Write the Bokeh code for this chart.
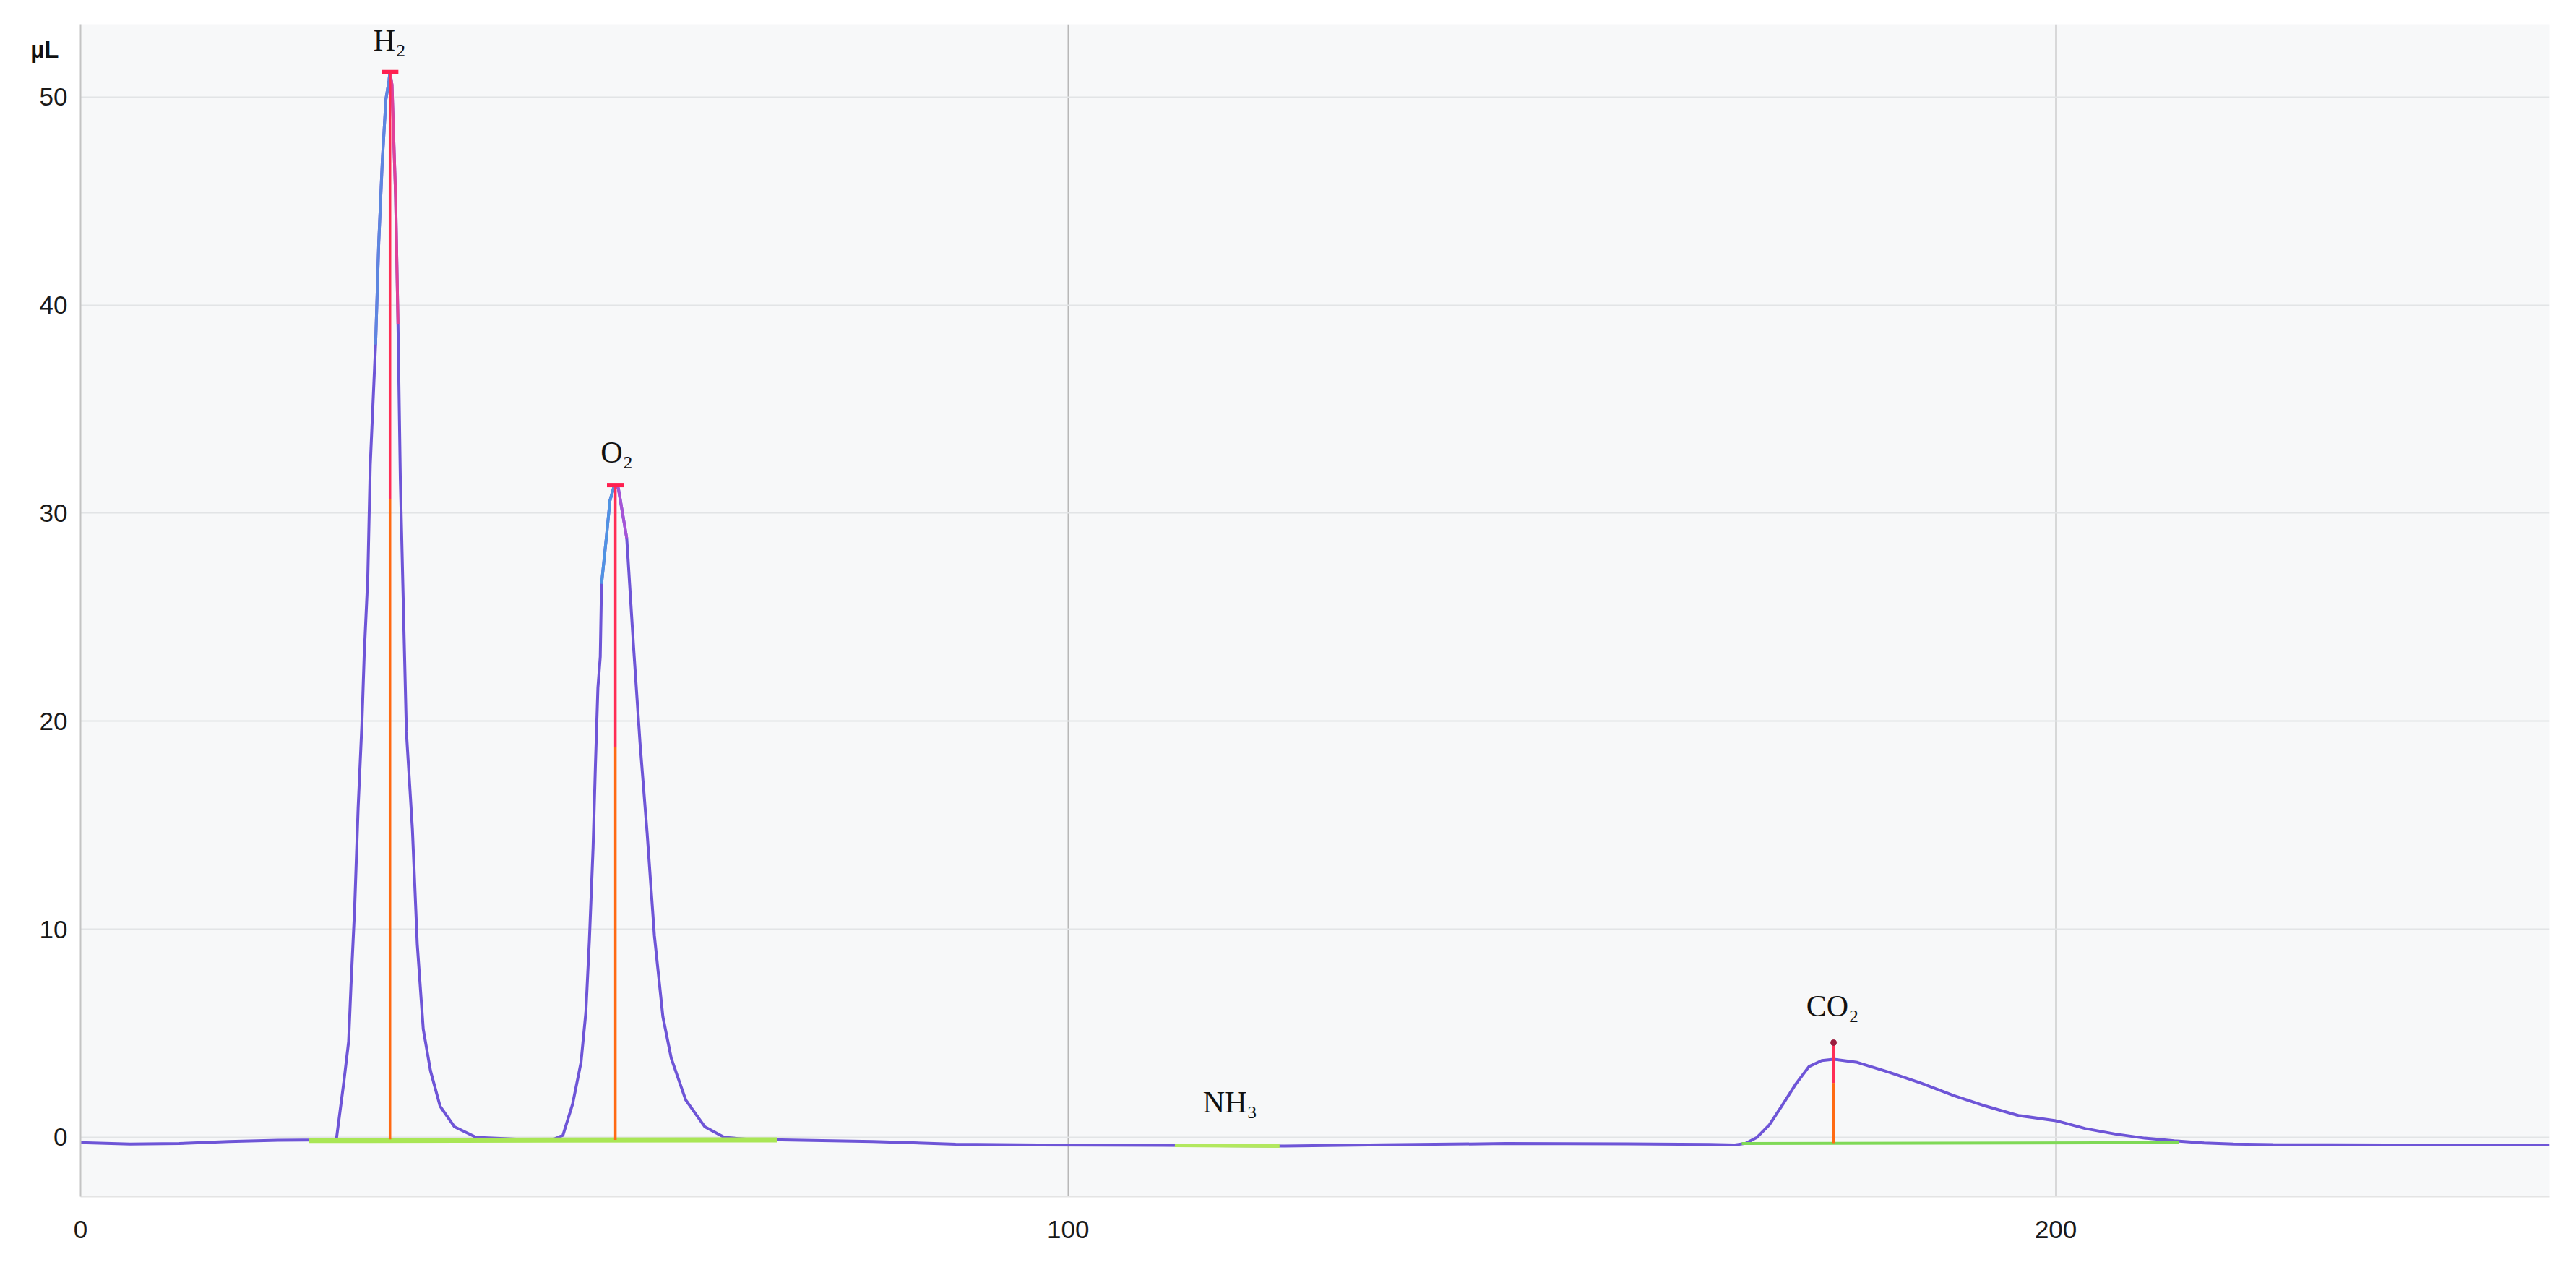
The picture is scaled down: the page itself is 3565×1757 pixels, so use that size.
import numpy as np
from bokeh.plotting import figure
from bokeh.models import ColumnDataSource, Range1d, FixedTicker, LinearAxis
from bokeh.core.properties import value
from bokeh.embed import file_html
from bokeh.resources import INLINE

# ---------------- data ----------------
time_min = [0, 5, 10, 15, 20, 25, 25.9, 26.64, 27.14, 27.38, 27.75, 28.1, 28.48,
            28.72, 29.08, 29.33, 29.87, 30.19, 30.55, 30.92, 31.23, 31.32, 31.53,
            31.9, 32.14, 32.38, 32.63, 32.99, 33.6, 34.09, 34.7, 35.43, 36.4,
            37.87, 40.06, 42.5, 44.5, 46.5, 47.86, 48.84, 49.82, 50.67, 51.16,
            51.52, 51.89, 52.13, 52.38, 52.62, 52.75, 53.23, 53.6, 53.96, 54.15,
            54.45, 55.3, 56.03, 56.64, 57.37, 58.1, 58.96, 59.81, 61.27, 63.22,
            65.18, 67.6, 71, 80.2, 88.6, 97, 109.6, 115, 121.8, 131.9, 144.3,
            156.6, 164.9, 167.4, 168.6, 169.75, 171.0, 172.3, 173.7, 175.0,
            176.3, 177.5, 179.9, 183, 186.4, 189.7, 192.9, 196.2, 200, 203, 206,
            209, 212, 215, 218, 222, 235, 250]
signal_ul = [-0.25, -0.32, -0.3, -0.2, -0.14, -0.12, -0.1, 2.6, 4.6, 7.3, 11.0,
             15.8, 19.8, 23.2, 26.9, 32.3, 38.1, 43.0, 46.9, 49.9, 50.8, 51.2,
             50.6, 45.2, 39.1, 31.6, 26.6, 19.5, 14.8, 9.3, 5.2, 3.2, 1.5, 0.5,
             0.0, -0.05, -0.1, -0.1, -0.1, 0.1, 1.6, 3.6, 6.0, 9.5, 13.9, 17.9,
             21.6, 23.1, 26.6, 28.8, 30.6, 31.2, 31.35, 31.2, 28.8, 23.3, 19.0,
             14.6, 9.7, 5.8, 3.8, 1.8, 0.5, 0.0, -0.1, -0.12, -0.2, -0.33, -0.37,
             -0.38, -0.4, -0.42, -0.36, -0.3, -0.31, -0.34, -0.37, -0.29, 0.0,
             0.6, 1.54, 2.58, 3.4, 3.69, 3.75, 3.6, 3.15, 2.6, 2.0, 1.5, 1.05,
             0.8, 0.42, 0.16, -0.04, -0.17, -0.27, -0.32, -0.35, -0.37, -0.37]

label_names = ["H\u2082", "O\u2082", "NH\u2083", "CO\u2082"]
label_time = [31.3, 54.3, 116.4, 177.4]
label_level = [51.2, 31.35, -0.4, 4.55]

marker_time = [31.33, 54.15, 177.5]
marker_top = [51.2, 31.35, 4.55]
marker_base = [-0.1, -0.12, -0.28]

baseline_t0 = [23.1, 110.8, 168.2]
baseline_t1 = [70.5, 121.4, 212.5]
baseline_y0 = [-0.15, -0.38, -0.3]
baseline_y1 = [-0.12, -0.42, -0.25]

x_ticks = [0, 100, 200]
y_ticks = [0, 10, 20, 30, 40, 50]
y_unit = "\u00b5L"
y_unit_level = 52.3

# ---------------- figure ----------------
W, H = 3557, 1749
p = figure(width=W, height=H, output_backend="svg", toolbar_location=None,
           x_range=Range1d(0, 250), y_range=Range1d(-2.85, 53.5),
           min_border_left=111, min_border_right=29, min_border_top=33,
           min_border_bottom=94)
p.background_fill_color = "#f7f8f9"
p.border_fill_color = "white"
p.outline_line_color = None

p.xaxis.ticker = FixedTicker(ticks=x_ticks)
p.yaxis.ticker = FixedTicker(ticks=y_ticks)
for ax in (p.xaxis[0], p.yaxis[0]):
    ax.major_tick_line_color = None
    ax.minor_tick_line_color = None
    ax.major_label_text_font = "Liberation Sans"
    ax.major_label_text_font_size = "35px"
    ax.major_label_text_color = "#1a1a1a"
p.yaxis.axis_line_color = "#c4c4c4"
p.yaxis.axis_line_width = 2
p.yaxis.major_label_standoff = 12
p.xaxis.axis_line_color = "#e4e4e4"
p.xaxis.axis_line_width = 2
p.xaxis.major_label_standoff = 27

p.xgrid.grid_line_color = "#b8b8b8"
p.xgrid.grid_line_width = 2
p.ygrid.grid_line_color = "#e2e4e6"
p.ygrid.grid_line_width = 2

# unit label above the y axis: an extra, line-less axis with one tick
unit_axis = LinearAxis(ticker=FixedTicker(ticks=[y_unit_level]),
                       major_label_overrides={y_unit_level: y_unit},
                       axis_line_color=None, major_tick_line_color=None,
                       minor_tick_line_color=None,
                       major_label_text_font="Liberation Sans",
                       major_label_text_font_style="bold",
                       major_label_text_font_size="33px",
                       major_label_text_color="#111111",
                       major_label_standoff=-36)
p.add_layout(unit_axis, "left")

t = np.array(time_min, dtype=float)
s = np.array(signal_ul, dtype=float)

# main trace
p.line(t, s, line_color="#6e55d7", line_width=4)


def flank(apex_t, thr, side):
    i = int(np.argmin(np.abs(t - apex_t)))
    j = i
    if side == "left":
        while j > 0 and s[j - 1] >= thr:
            j -= 1
        return t[j:i + 1], s[j:i + 1]
    while j < len(s) - 1 and s[j + 1] >= thr:
        j += 1
    return t[i:j + 1], s[i:j + 1]


# colour shading near the apexes of the two big peaks
for apex, thr, lc, rc in [(marker_time[0], 37, "#5d86e0", "#e0409a"),
                          (marker_time[1], 25, "#4f93e3", "#a654d6")]:
    lx, ly = flank(apex, thr, "left")
    rx, ry = flank(apex, thr, "right")
    p.line(lx, ly, line_color=lc, line_width=4)
    p.line(rx, ry, line_color=rc, line_width=4)

# integration baselines
p.segment(x0=baseline_t0[:1], y0=baseline_y0[:1], x1=baseline_t1[:1],
          y1=baseline_y1[:1], line_color="#a9e655", line_width=7)
p.segment(x0=baseline_t0[1:2], y0=baseline_y0[1:2], x1=baseline_t1[1:2],
          y1=baseline_y1[1:2], line_color="#b2e85e", line_width=5)
p.segment(x0=baseline_t0[2:], y0=baseline_y0[2:], x1=baseline_t1[2:],
          y1=baseline_y1[2:], line_color="#7fd957", line_width=4)

# peak markers
mt = np.array(marker_time)
mtop = np.array(marker_top)
mb = np.array(marker_base)
mid = mb + 0.6 * (mtop - mb)
p.segment(x0=mt, y0=mb, x1=mt, y1=mid, line_color="#ff6a13", line_width=3.5)
p.segment(x0=mt, y0=mid, x1=mt, y1=mtop, line_color="#ff2d55", line_width=3.5)
p.segment(x0=mt[:2] - 0.85, y0=mtop[:2], x1=mt[:2] + 0.85, y1=mtop[:2],
          line_color="#ff2050", line_width=6)
p.scatter(x=mt[2:], y=mtop[2:], size=8, fill_color="#9b1d3e",
          line_color="#9b1d3e")

# peak names
lab = ColumnDataSource(dict(x=label_time, y=label_level, text=label_names,
                            off=[-44, -45, -60, -50]))
p.text(x="x", y="y", text="text", y_offset="off", source=lab,
       text_font=value("Liberation Serif"), text_font_size="42px",
       text_color="#111111", text_align="center",
       text_baseline="alphabetic")

open("out.html", "w").write(file_html(p, INLINE))
